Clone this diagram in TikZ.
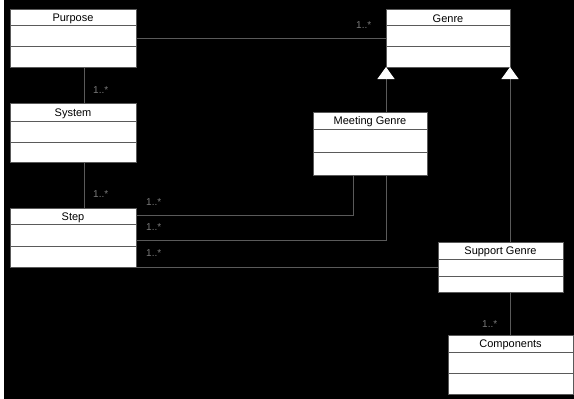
\documentclass[tikz,border=0pt]{standalone}
\usepackage{fontspec}
\setmainfont{Liberation Sans}
\usetikzlibrary{arrows.meta}
\definecolor{lineg}{HTML}{5A5A5A}
\definecolor{labg}{HTML}{7A7A7A}
\tikzset{
  cls/.style={draw=lineg, fill=white, line width=1pt, inner sep=0pt, outer sep=0pt, anchor=north west},
  divider/.style={draw=lineg, line width=1pt},
  title/.style={font=\fontsize{11}{12}\selectfont, text=black, inner sep=0pt},
  assoc/.style={draw=lineg, line width=1pt},
  gen/.style={draw=lineg, line width=1pt, -{Triangle[color=white, fill=white, length=12pt, width=17pt]}},
  mult/.style={font=\fontsize{10}{12}\selectfont, text=labg, inner sep=0pt, anchor=west}
}
\newcommand\umlbox[8]{%
  \node[cls, minimum width={(#4-#2)*1pt}, minimum height={(#5-#3)*1pt}] (#1) at (#2,#3) {};
  \draw[divider] ([yshift={-(#6-#3)*1pt}]#1.north west) -- ([yshift={-(#6-#3)*1pt}]#1.north east);
  \draw[divider] ([yshift={-(#7-#3)*1pt}]#1.north west) -- ([yshift={-(#7-#3)*1pt}]#1.north east);
  \node[title] (#1-t) at ({(#2+#4)/2},{(#3+#6)/2+1.5}) {#8};
}
\begin{document}
\begin{tikzpicture}[x=1pt, y=-1pt]
\useasboundingbox (0,0) rectangle (574,399);
\fill[black] (0,0) rectangle (574,399);
\fill[white] (0,0) rectangle (4,399);
% classes
\umlbox{purpose}{10}{9}{136}{67}{25}{46}{Purpose}
\umlbox{system}{10}{103}{136}{162}{121}{142}{System}
\umlbox{step}{10}{208}{136}{267}{224}{246}{Step}
\umlbox{genre}{386}{9}{510}{67}{25}{46}{Genre}
\umlbox{meeting}{313}{112}{427}{175}{129}{152}{Meeting Genre}
\umlbox{support}{438}{242}{563}{292}{259}{276}{Support Genre}
\umlbox{components}{448}{335}{573}{394}{352}{373}{Components}
% associations
\draw[assoc] (purpose.east) -- (genre.west);
\draw[assoc] ([xshift=11pt]purpose.south) -- ([xshift=11pt]system.north);
\draw[assoc] ([xshift=11pt]system.south) -- ([xshift=11pt]step.north);
\draw[assoc] ([xshift=-17pt]meeting.south) |- ([yshift=-7pt]step.north east);
\draw[assoc] ([xshift=16pt]meeting.south) |- ([yshift=-32pt]step.north east);
\draw[assoc] (step.south east) -- (support.west);
\draw[assoc] (support.south -| components.north) -- (components.north);
% generalizations
\draw[gen] (meeting.north -| genre.south west) -- (genre.south west);
\draw[gen] (support.north -| genre.south east) -- (genre.south east);
% multiplicities
\node[mult] (m1) at (356,25) {1..*};
\node[mult] (m2) at (93,90) {1..*};
\node[mult] (m3) at (93,194) {1..*};
\node[mult] (m4) at (146,202) {1..*};
\node[mult] (m5) at (146,227) {1..*};
\node[mult] (m6) at (146,253) {1..*};
\node[mult] (m7) at (482,324) {1..*};
\end{tikzpicture}
\end{document}
